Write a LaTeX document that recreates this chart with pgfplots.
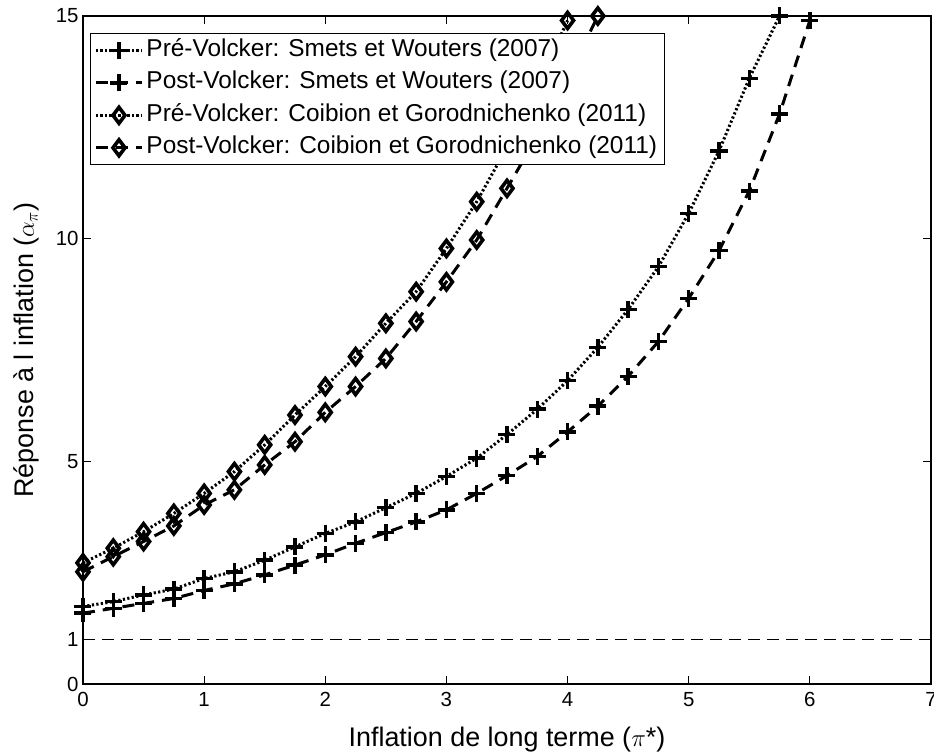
\documentclass[border=0pt]{standalone}
\usepackage{pgfplots}
\pgfplotsset{compat=1.18}
\usepackage{fontspec}
\setmainfont{Liberation Sans}

\pgfplotstableread{
x    y
0    1.74
0.25 1.85
0.5  2.00
0.75 2.13
1    2.37
1.25 2.52
1.5  2.78
1.75 3.08
2    3.38
2.25 3.64
2.5  3.96
2.75 4.28
3    4.66
3.25 5.07
3.5  5.60
3.75 6.17
4    6.81
4.25 7.56
4.5  8.41
4.75 9.37
5    10.57
5.25 11.97
5.5  13.60
5.75 15.00
}\preSW

\pgfplotstableread{
x    y
0    1.59
0.25 1.70
0.5  1.81
0.75 1.92
1    2.10
1.25 2.25
1.5  2.45
1.75 2.67
2    2.90
2.25 3.16
2.5  3.40
2.75 3.64
3    3.91
3.25 4.28
3.5  4.68
3.75 5.11
4    5.66
4.25 6.24
4.5  6.91
4.75 7.69
5    8.66
5.25 9.73
5.5  11.07
5.75 12.80
6    14.90
}\postSW

\pgfplotstableread{
x    y
0    2.72
0.25 3.05
0.5  3.42
0.75 3.83
1    4.28
1.25 4.77
1.5  5.37
1.75 6.04
2    6.68
2.25 7.35
2.5  8.10
2.75 8.81
3    9.78
3.25 10.83
3.5  12.05
3.75 13.40
4    14.90
}\preCG

\pgfplotstableread{
x    y
0    2.52
0.25 2.86
0.5  3.20
0.75 3.55
1    4.02
1.25 4.36
1.5  4.92
1.75 5.44
2    6.10
2.25 6.68
2.5  7.31
2.75 8.14
3    9.03
3.25 9.97
3.5  11.13
3.75 12.30
4    13.60
4.25 15.00
}\postCG

\begin{document}
\begin{tikzpicture}
\path[use as bounding box] (-83bp,-71bp) rectangle (851bp,684bp);
\begin{axis}[
  scale only axis,
  width=848bp, height=668bp,
  xmin=0, xmax=7, ymin=0, ymax=15,
  xtick={0,1,2,3,4,5,6,7},
  xticklabels={0,1,2,3,4,5,6,7},
  ytick={0,1,5,10,15},
  yticklabels={0,1,5,10,15},
  clip=false,
  tick align=inside,
  major tick length=8bp,
  axis line style={line width=1.2bp},
  tick style={line width=1bp, black},
  every tick label/.append style={font=\fontsize{20.5}{23}\selectfont},
  xticklabel style={yshift=-5bp},
  yticklabel style={xshift=-1bp},
  xlabel={Inflation de long terme ($\pi$*)},
  ylabel={Réponse à l inflation ($\alpha_{\pi}$)},
  label style={font=\fontsize{27}{30}\selectfont},
  xlabel style={at={(rel axis cs:0.5,-0.0943)}, anchor=base},
  ylabel style={at={(rel axis cs:-0.0578,0.5)}, anchor=base},
  legend cell align=left,
  legend style={at={(rel axis cs:0.00825,0.9745)}, anchor=north west,
    font=\fontsize{24.5}{28}\selectfont, draw=black, line width=1bp,
    fill=white, inner xsep=4bp, inner ysep=0.5bp,
    nodes={text height=17bp, text depth=5.5bp, inner ysep=5bp, inner xsep=3bp}},
  legend image code/.code={
    \draw[mark repeat=2,mark phase=2] plot coordinates {(0bp,0bp) (23bp,0bp) (46bp,0bp)};
  },
]
\addplot[black, line width=3bp, dash pattern=on 2.2bp off 2.3bp, mark=+, mark size=8.5bp,
  mark options={solid, line width=3.5bp}] table {\preSW};
\addlegendentry{Pré-Volcker: Smets et Wouters (2007)}
\addplot[black, line width=3bp, dash pattern=on 12bp off 8bp, mark=+, mark size=8.5bp,
  mark options={solid, line width=3.5bp}] table {\postSW};
\addlegendentry{Post-Volcker: Smets et Wouters (2007)}
\addplot[black, line width=3bp, dash pattern=on 2.2bp off 2.3bp, mark=diamond, mark size=8bp,
  mark options={solid, line width=3.6bp}] table {\preCG};
\addlegendentry{Pré-Volcker: Coibion et Gorodnichenko (2011)}
\addplot[black, line width=3bp, dash pattern=on 12bp off 8bp, mark=diamond, mark size=8bp,
  mark options={solid, line width=3.6bp}] table {\postCG};
\addlegendentry{Post-Volcker: Coibion et Gorodnichenko (2011)}
\addplot[black, line width=1.2bp, dash pattern=on 12bp off 7bp, forget plot] coordinates {(0,1) (7,1)};
\end{axis}
\end{tikzpicture}
\end{document}
